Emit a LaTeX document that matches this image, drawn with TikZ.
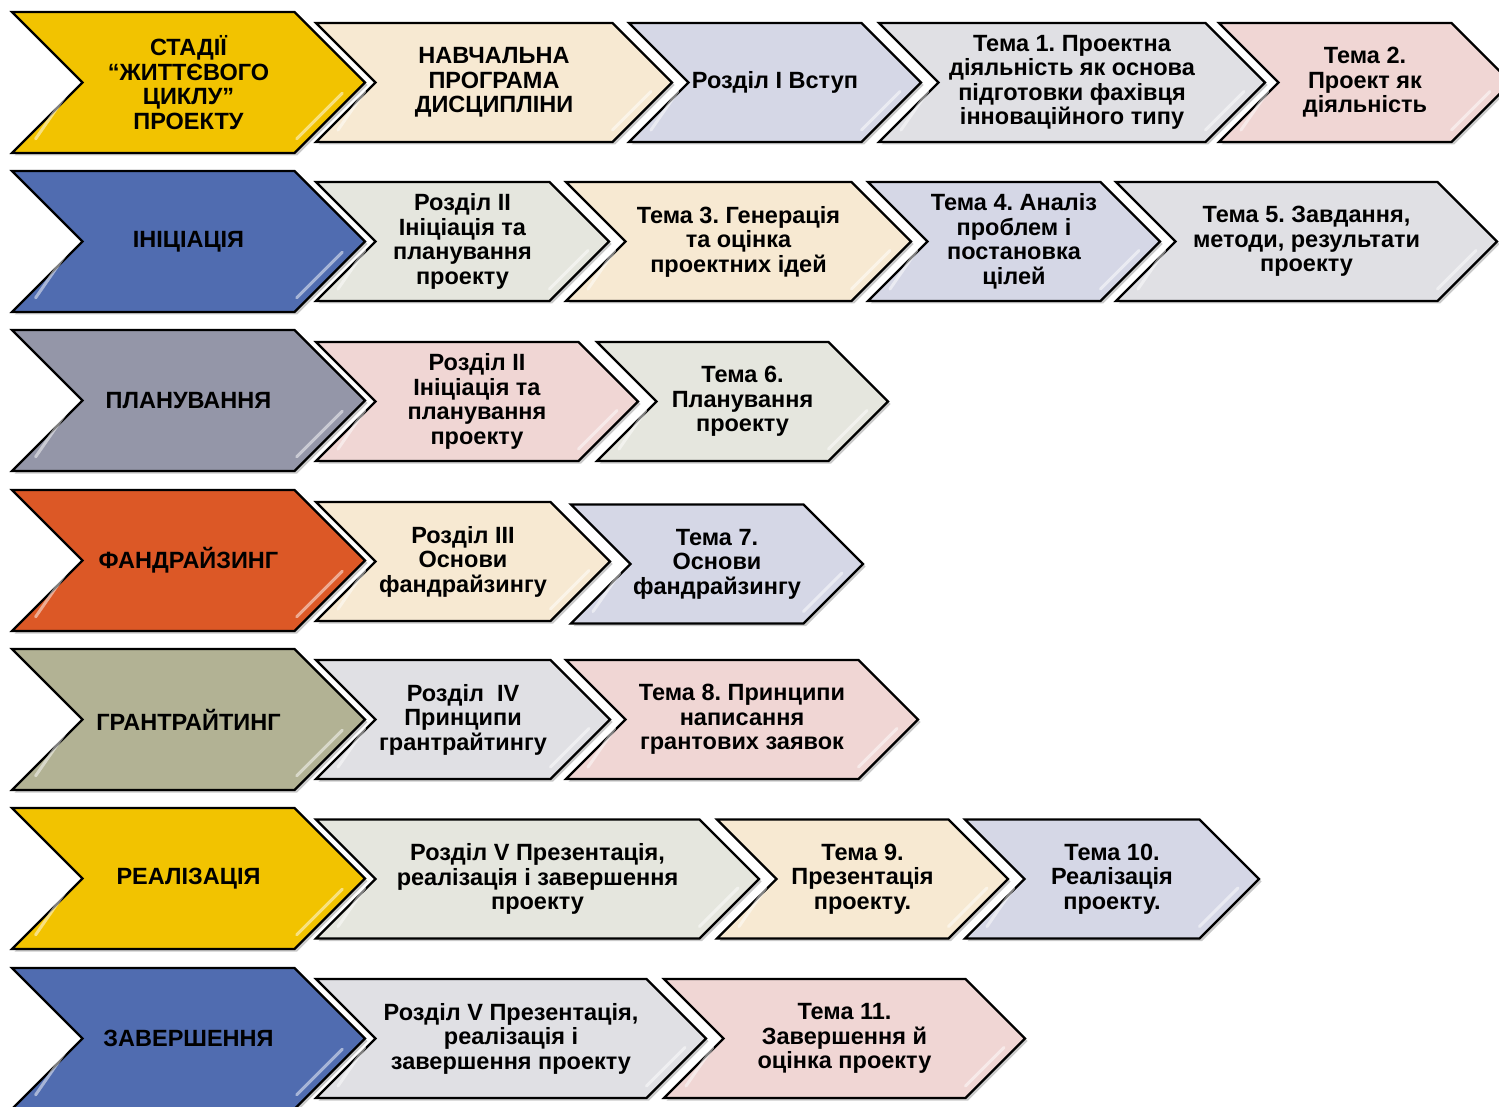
\documentclass[tikz,border=0pt]{standalone}
\usepackage{fontspec}
\setmainfont{Liberation Sans}
\usetikzlibrary{shadows}
\frenchspacing

\definecolor{gold}{RGB}{242,195,0}
\definecolor{stblue}{RGB}{80,108,176}
\definecolor{stgrey}{RGB}{148,150,168}
\definecolor{storange}{RGB}{220,88,38}
\definecolor{stkhaki}{RGB}{178,178,148}
\definecolor{cream}{RGB}{247,233,210}
\definecolor{lavender}{RGB}{213,215,230}
\definecolor{lgrey}{RGB}{224,224,228}
\definecolor{pink}{RGB}{240,214,212}
\definecolor{sage}{RGB}{229,230,222}

\tikzset{
  chev/.style={draw=black, line width=2.2pt, line join=miter,
    drop shadow={shadow xshift=2.5pt, shadow yshift=-2.5pt, opacity=0.35, fill=black!60}},
  gloss/.style={draw=white, line width=3pt, opacity=0.5, line cap=round},
  lbl/.style={font=\fontsize{23.5}{24.5}\selectfont\bfseries, align=center, inner sep=0pt}
}

% name, left x, tip x, centre y, half height, fill, text
\newcommand{\chev}[7]{%
  \filldraw[chev, fill=#6] (#2,#4-#5) -- (#3-#5,#4-#5) -- (#3,#4) -- (#3-#5,#4+#5)
    -- (#2,#4+#5) -- (#2+#5,#4) -- cycle;
  \draw[gloss] (#2+#5*0.6+13,#4+#5*0.15) -- (#2+#5*0.15+13,#4+#5*0.8);
  \draw[gloss] (#3-#5*0.15-12,#4+#5*0.15) -- (#3-#5*0.8-12,#4+#5*0.8);
  \node[lbl] (#1) at ({(#2+#3)/2},#4) {#7};
}

\begin{document}
\begin{tikzpicture}[x=1pt, y=-1pt]
\useasboundingbox (0,0) rectangle (1499,1107);
\clip (0,0) rectangle (1499,1107);

% row 1
\chev{st1}{12}{365}{82.5}{70.5}{gold}{СТАДІЇ\\“ЖИТТЄВОГО\\ЦИКЛУ”\\ПРОЕКТУ}
\chev{st1a}{316}{672}{82.5}{59.5}{cream}{НАВЧАЛЬНА\\ПРОГРАМА\\ДИСЦИПЛІНИ}
\chev{st1b}{629}{921}{82.5}{59.5}{lavender}{Розділ І Вступ}
\chev{st1c}{879}{1265}{82.5}{59.5}{lgrey}{Тема 1. Проектна\\діяльність як основа\\підготовки фахівця\\інноваційного типу}
\chev{st1d}{1219}{1511}{82.5}{59.5}{pink}{Тема 2.\\Проект як\\діяльність}

% row 2
\chev{st2}{12}{365}{241.5}{70.5}{stblue}{ІНІЦІАЦІЯ}
\chev{st2a}{316}{609}{241.5}{59.5}{sage}{Розділ ІІ\\Ініціація та\\планування\\проекту}
\chev{st2b}{566}{911}{241.5}{59.5}{cream}{Тема 3. Генерація\\та оцінка\\проектних ідей}
\chev{st2c}{868}{1160}{241.5}{59.5}{lavender}{Тема 4. Аналіз\\проблем і\\постановка\\цілей}
\chev{st2d}{1116}{1497}{241.5}{59.5}{lgrey}{Тема 5. Завдання,\\методи, результати\\проекту}

% row 3
\chev{st3}{12}{365}{400.5}{70.5}{stgrey}{ПЛАНУВАННЯ}
\chev{st3a}{316}{638}{401.5}{59.5}{pink}{Розділ ІІ\\Ініціація та\\планування\\проекту}
\chev{st3b}{597}{888}{401.5}{59.5}{sage}{Тема 6.\\Планування\\проекту}

% row 4
\chev{st4}{12}{365}{560.5}{70.5}{storange}{ФАНДРАЙЗИНГ}
\chev{st4a}{316}{610}{561.5}{59.5}{cream}{Розділ ІІІ\\Основи\\фандрайзингу}
\chev{st4b}{571}{863}{564}{59.5}{lavender}{Тема 7.\\Основи\\фандрайзингу}

% row 5
\chev{st5}{12}{365}{719.5}{70.5}{stkhaki}{ГРАНТРАЙТИНГ}
\chev{st5a}{316}{610}{719.5}{59.5}{lgrey}{Розділ\ \ IV\\Принципи\\грантрайтингу}
\chev{st5b}{566}{918}{719.5}{59.5}{pink}{Тема 8. Принципи\\написання\\грантових заявок}

% row 6
\chev{st6}{12}{365}{878.5}{70.5}{gold}{РЕАЛІЗАЦІЯ}
\chev{st6a}{316}{759}{879}{59.5}{sage}{Розділ V Презентація,\\реалізація і завершення\\проекту}
\chev{st6b}{717}{1008}{879}{59.5}{cream}{Тема 9.\\Презентація\\проекту.}
\chev{st6c}{965}{1259}{879}{59.5}{lavender}{Тема 10.\\Реалізація\\проекту.}

% row 7
\chev{st7}{12}{365}{1038.5}{70.5}{stblue}{ЗАВЕРШЕННЯ}
\chev{st7a}{316}{706}{1038.5}{59.5}{lgrey}{Розділ V Презентація,\\реалізація і\\завершення проекту}
\chev{st7b}{664}{1025}{1038.5}{59.5}{pink}{Тема 11.\\Завершення й\\оцінка проекту}
\end{tikzpicture}
\end{document}
